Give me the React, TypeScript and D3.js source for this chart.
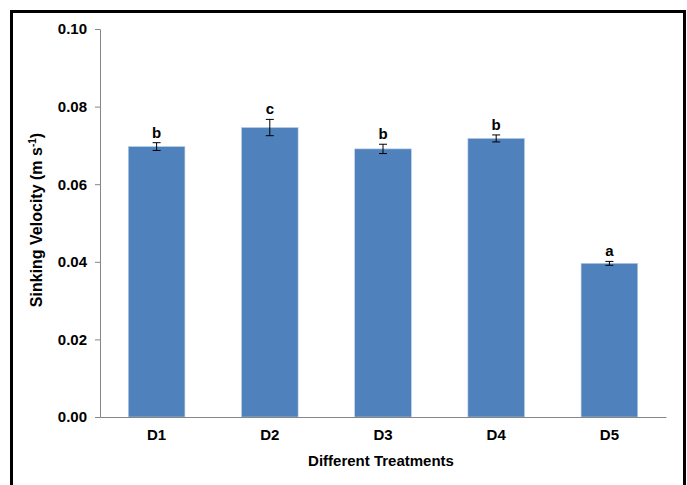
import React, { useEffect, useRef } from "react";
import * as d3 from "d3";

const categories = ["D1", "D2", "D3", "D4", "D5"];
const velocity = [0.0697, 0.0746, 0.0691, 0.0718, 0.0396];
const stdError = [0.001, 0.0021, 0.0012, 0.0009, 0.0005];
const groupLetters = ["b", "c", "b", "b", "a"];
const yTicks = [0, 0.02, 0.04, 0.06, 0.08, 0.1];

const W = 687;
const H = 485;
const FONT = "'Liberation Sans', Arial, sans-serif";

export default function App() {
  const ref = useRef<SVGSVGElement | null>(null);

  useEffect(() => {
    const svg = d3.select(ref.current);
    svg.selectAll("*").remove();

    const left = 100, right = 666, top = 29, bottom = 417;

    const x = d3.scaleBand<string>().domain(categories).range([left, right]).paddingInner(0.5).paddingOuter(0.25);
    const y = d3.scaleLinear().domain([0, 0.1]).range([bottom, top]);

    // outer frame
    const frame = svg.append("g").attr("stroke", "#000").attr("stroke-width", 3).attr("fill", "none");
    frame.append("path").attr("d", `M11.5,${H} L11.5,11.5 L684.5,11.5 L684.5,${H}`);

    // bars
    svg.append("g")
      .selectAll("rect")
      .data(velocity)
      .join("rect")
      .attr("x", (_, i) => x(categories[i])!)
      .attr("width", x.bandwidth())
      .attr("y", (d) => y(d))
      .attr("height", (d) => y(0) - y(d))
      .attr("fill", "#4F81BD")
      .attr("stroke", "#B9CDE5")
      .attr("stroke-width", 0.6);

    // error bars
    const eb = svg.append("g").attr("stroke", "#000").attr("stroke-width", 1);
    velocity.forEach((v, i) => {
      const cx = x(categories[i])! + x.bandwidth() / 2;
      const y1 = y(v + stdError[i]);
      const y2 = y(v - stdError[i]);
      eb.append("line").attr("x1", cx).attr("x2", cx).attr("y1", y1).attr("y2", y2);
      eb.append("line").attr("x1", cx - 4).attr("x2", cx + 4).attr("y1", y1).attr("y2", y1);
      eb.append("line").attr("x1", cx - 4).attr("x2", cx + 4).attr("y1", y2).attr("y2", y2);
    });

    // significance letters
    svg.append("g")
      .selectAll("text")
      .data(groupLetters)
      .join("text")
      .attr("x", (_, i) => x(categories[i])! + x.bandwidth() / 2)
      .attr("y", (_, i) => y(velocity[i] + stdError[i]) - 5)
      .attr("text-anchor", "middle")
      .attr("font-family", FONT)
      .attr("font-weight", "bold")
      .attr("font-size", 15)
      .attr("fill", "#000")
      .text((d) => d);

    // y axis
    const yAxis = svg.append("g").attr("transform", `translate(${left},0)`)
      .call(d3.axisLeft(y).tickValues(yTicks).tickFormat(d3.format(".2f")).tickSize(5).tickPadding(8));
    yAxis.select(".domain").attr("stroke", "#868686");
    yAxis.selectAll(".tick line").attr("stroke", "#868686");
    yAxis.selectAll("text").attr("font-family", FONT).attr("font-weight", "bold").attr("font-size", 15).attr("fill", "#000");

    // x axis
    const xAxis = svg.append("g").attr("transform", `translate(0,${bottom})`)
      .call(d3.axisBottom(x).tickSize(0).tickPadding(12));
    xAxis.select(".domain").attr("stroke", "#868686");
    xAxis.selectAll("text").attr("font-family", FONT).attr("font-weight", "bold").attr("font-size", 15).attr("fill", "#000");

    // axis titles
    svg.append("text")
      .attr("x", (left + right) / 2 - 2)
      .attr("y", 466)
      .attr("text-anchor", "middle")
      .attr("font-family", FONT)
      .attr("font-weight", "bold")
      .attr("font-size", 15)
      .text("Different Treatments");

    const yt = svg.append("text")
      .attr("transform", `translate(42,220) rotate(-90)`)
      .attr("text-anchor", "middle")
      .attr("font-family", FONT)
      .attr("font-weight", "bold")
      .attr("font-size", 16);
    yt.append("tspan").text("Sinking Velocity (m s");
    yt.append("tspan").attr("font-size", 10).attr("dy", -6).text("-1");
    yt.append("tspan").attr("dy", 6).text(")");
  }, []);

  return (
    <svg
      ref={ref}
      width={W}
      height={H}
      style={{ position: "absolute", left: 0, top: 0, background: "#fff" }}
    />
  );
}
